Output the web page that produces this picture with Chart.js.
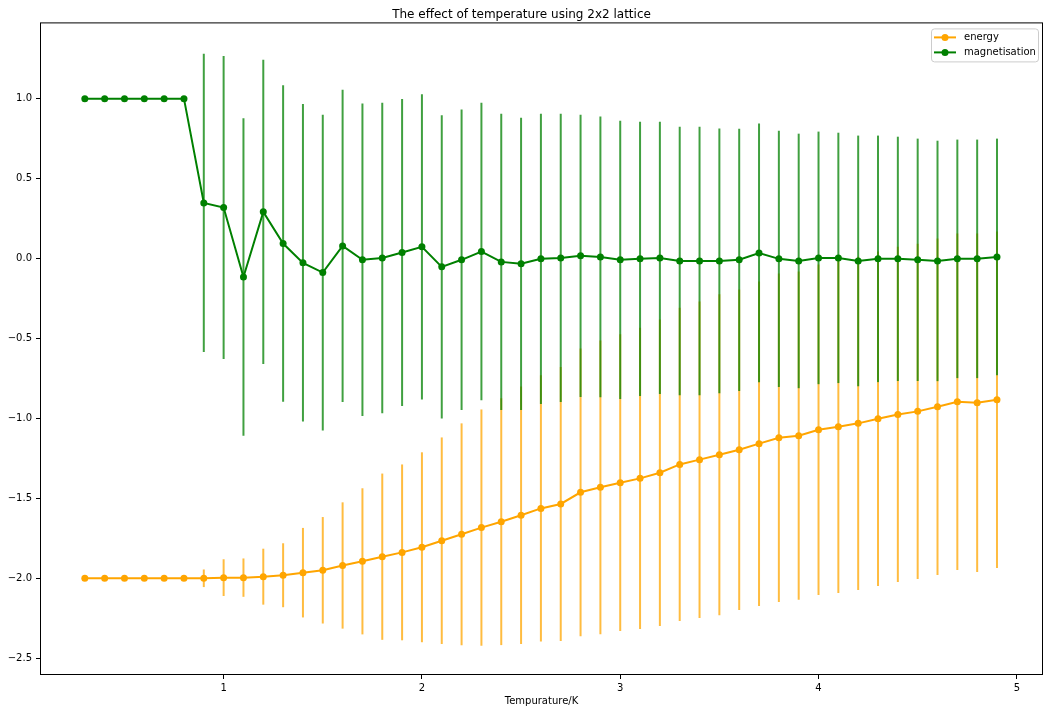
<!DOCTYPE html>
<html>
<head>
<meta charset="utf-8">
<script src="https://cdn.jsdelivr.net/npm/chart.js@4/dist/chart.umd.min.js"></script>
<style>
  html, body { margin: 0; padding: 0; background: #fff; }
  #wrap { width: 1053px; height: 713px; }
</style>
</head>
<body>
<div id="wrap"><canvas id="chart"></canvas></div>
<script>
// temperature steps (x)
const temperatures = [
  0.3, 0.4, 0.5, 0.6, 0.7, 0.8, 0.9,
  1.0, 1.1, 1.2, 1.3, 1.4, 1.5, 1.6, 1.7, 1.8, 1.9,
  2.0, 2.1, 2.2, 2.3, 2.4, 2.5, 2.6, 2.7, 2.8, 2.9,
  3.0, 3.1, 3.2, 3.3, 3.4, 3.5, 3.6, 3.7, 3.8, 3.9,
  4.0, 4.1, 4.2, 4.3, 4.4, 4.5, 4.6, 4.7, 4.8, 4.9
];

const energy = [
  -2.0, -2.0, -2.0, -2.0, -2.0, -2.0, -2.0,
  -1.996, -1.996, -1.99, -1.981, -1.965, -1.95, -1.92, -1.894, -1.865, -1.838,
  -1.806, -1.765, -1.725, -1.683, -1.646, -1.606, -1.563, -1.535, -1.462, -1.431,
  -1.402, -1.375, -1.34, -1.288, -1.258, -1.227, -1.196, -1.158, -1.121, -1.108,
  -1.071, -1.052, -1.031, -1.002, -0.975, -0.956, -0.927, -0.896, -0.902, -0.883
];

const energyErr = [
  0, 0, 0, 0, 0, 0, 0.055,
  0.115, 0.12, 0.175, 0.2, 0.28, 0.333, 0.395, 0.457, 0.52, 0.55,
  0.594, 0.646, 0.694, 0.739, 0.772, 0.805, 0.833, 0.857, 0.9, 0.919,
  0.928, 0.942, 0.958, 0.98, 0.99, 1.004, 1.002, 1.015, 1.027, 1.027,
  1.033, 1.04, 1.042, 1.046, 1.048, 1.048, 1.052, 1.052, 1.058, 1.052
];

const magnetisation = [
  1.0, 1.0, 1.0, 1.0, 1.0, 1.0, 0.348,
  0.319, -0.115, 0.292, 0.094, -0.027, -0.088, 0.079, -0.008, 0.004, 0.038,
  0.073, -0.052, -0.008, 0.044, -0.021, -0.033, -0.002, 0.004, 0.017, 0.01,
  -0.008, -0.002, 0.004, -0.015, -0.015, -0.015, -0.008, 0.035, -0.002, -0.015,
  0.004, 0.004, -0.015, -0.002, -0.002, -0.008, -0.015, -0.002, -0.002, 0.01
];

const magnetisationErr = [
  0, 0, 0, 0, 0, 0, 0.933,
  0.948, 0.993, 0.952, 0.99, 0.993, 0.987, 0.977, 0.977, 0.971, 0.96,
  0.955, 0.949, 0.94, 0.93, 0.927, 0.914, 0.908, 0.902, 0.883, 0.878,
  0.87, 0.858, 0.852, 0.84, 0.84, 0.828, 0.82, 0.809, 0.802, 0.796,
  0.79, 0.783, 0.784, 0.771, 0.764, 0.758, 0.752, 0.746, 0.746, 0.74
];

const xTicks = [1, 2, 3, 4, 5];
const yTicks = [-2.5, -2.0, -1.5, -1.0, -0.5, 0.0, 0.5, 1.0];

const FONT = "'DejaVu Sans', sans-serif";

const toPoints = (ys) => temperatures.map((t, i) => ({ x: t, y: ys[i] }));

// vertical error bars, drawn just before each dataset's line
const errorBars = {
  id: "errorBars",
  beforeDatasetDraw(chart, args) {
    const ds = chart.data.datasets[args.index];
    if (!ds.errors) return;
    const { ctx, scales } = chart;
    ctx.save();
    ctx.strokeStyle = ds.errorColor;
    ctx.lineWidth = 2;
    ds.data.forEach((p, i) => {
      const e = ds.errors[i];
      if (!e) return;
      const px = scales.x.getPixelForValue(p.x);
      ctx.beginPath();
      ctx.moveTo(px, scales.y.getPixelForValue(p.y - e));
      ctx.lineTo(px, scales.y.getPixelForValue(p.y + e));
      ctx.stroke();
    });
    ctx.restore();
  },
};

// matplotlib-like frame and legend box
const frameAndLegend = {
  id: "frameAndLegend",
  afterDraw(chart) {
    const { ctx, chartArea: a } = chart;
    ctx.save();
    ctx.strokeStyle = "#000";
    ctx.lineWidth = 1;
    ctx.strokeRect(a.left + 0.5, a.top + 0.5, a.right - a.left - 1, a.bottom - a.top - 1);

    // legend
    const w = 107, h = 33;
    const lx = a.right - 5 - w, ly = a.top + 6;
    ctx.fillStyle = "rgba(255,255,255,0.8)";
    ctx.strokeStyle = "#cccccc";
    ctx.beginPath();
    ctx.roundRect(lx + 0.5, ly + 0.5, w, h, 3);
    ctx.fill();
    ctx.stroke();

    ctx.font = `10px ${FONT}`;
    ctx.textBaseline = "middle";
    chart.data.datasets.forEach((ds, i) => {
      const cy = ly + 9 + i * 15;
      ctx.strokeStyle = ds.borderColor;
      ctx.lineWidth = 2;
      ctx.beginPath();
      ctx.moveTo(lx + 3, cy);
      ctx.lineTo(lx + 25, cy);
      ctx.stroke();
      ctx.fillStyle = ds.borderColor;
      ctx.beginPath();
      ctx.arc(lx + 14, cy, 3.5, 0, Math.PI * 2);
      ctx.fill();
      ctx.fillStyle = "#000";
      ctx.fillText(ds.label, lx + 33, cy);
    });
    ctx.restore();
  },
};

const canvas = document.getElementById("chart");

new Chart(canvas, {
  type: "line",
  data: {
    datasets: [
      {
        label: "energy",
        data: toPoints(energy),
        errors: energyErr,
        errorColor: "rgba(255,165,0,0.75)",
        borderColor: "#ffa500",
        backgroundColor: "#ffa500",
        borderWidth: 2,
        pointRadius: 3.5,
        pointHoverRadius: 3.5,
        pointBorderWidth: 0,
        tension: 0,
        order: 2,
      },
      {
        label: "magnetisation",
        data: toPoints(magnetisation),
        errors: magnetisationErr,
        errorColor: "rgba(0,128,0,0.75)",
        borderColor: "#008000",
        backgroundColor: "#008000",
        borderWidth: 2,
        pointRadius: 3.5,
        pointHoverRadius: 3.5,
        pointBorderWidth: 0,
        tension: 0,
        order: 1,
      },
    ],
  },
  options: {
    responsive: true,
    maintainAspectRatio: false,
    animation: false,
    layout: { padding: { left: 0, right: 10, top: 0, bottom: 0 } },
    scales: {
      x: {
        type: "linear",
        min: 0.074,
        max: 5.132,
        afterBuildTicks: (scale) => {
          scale.ticks = xTicks.map((v) => ({ value: v }));
        },
        afterFit: (scale) => {
          scale.height = 38;
        },
        grid: {
          drawOnChartArea: false,
          drawTicks: true,
          tickLength: 4,
          color: "#000",
        },
        border: { display: false },
        ticks: {
          color: "#000",
          padding: 3,
          maxRotation: 0,
          font: { family: FONT, size: 10 },
          callback: (v) => String(v),
        },
        title: {
          display: true,
          text: "Tempurature/K",
          color: "#000",
          font: { family: FONT, size: 10 },
          padding: { top: 0, bottom: 6 },
        },
      },
      y: {
        type: "linear",
        min: -2.605,
        max: 1.477,
        afterBuildTicks: (scale) => {
          scale.ticks = yTicks.map((v) => ({ value: v }));
        },
        afterFit: (scale) => {
          scale.width = 40;
        },
        grid: {
          drawOnChartArea: false,
          drawTicks: true,
          tickLength: 4,
          color: "#000",
        },
        border: { display: false },
        ticks: {
          color: "#000",
          padding: 4,
          font: { family: FONT, size: 10 },
          callback: (v) => v.toFixed(1).replace("-", "\u2212"),
        },
      },
    },
    plugins: {
      legend: { display: false },
      tooltip: { enabled: false },
      title: {
        display: true,
        text: "The effect of temperature using 2x2 lattice",
        color: "#000",
        font: { family: FONT, size: 12, weight: "normal" },
        padding: { top: 8, bottom: 0 },
      },
    },
  },
  plugins: [errorBars, frameAndLegend],
});
</script>
</body>
</html>
